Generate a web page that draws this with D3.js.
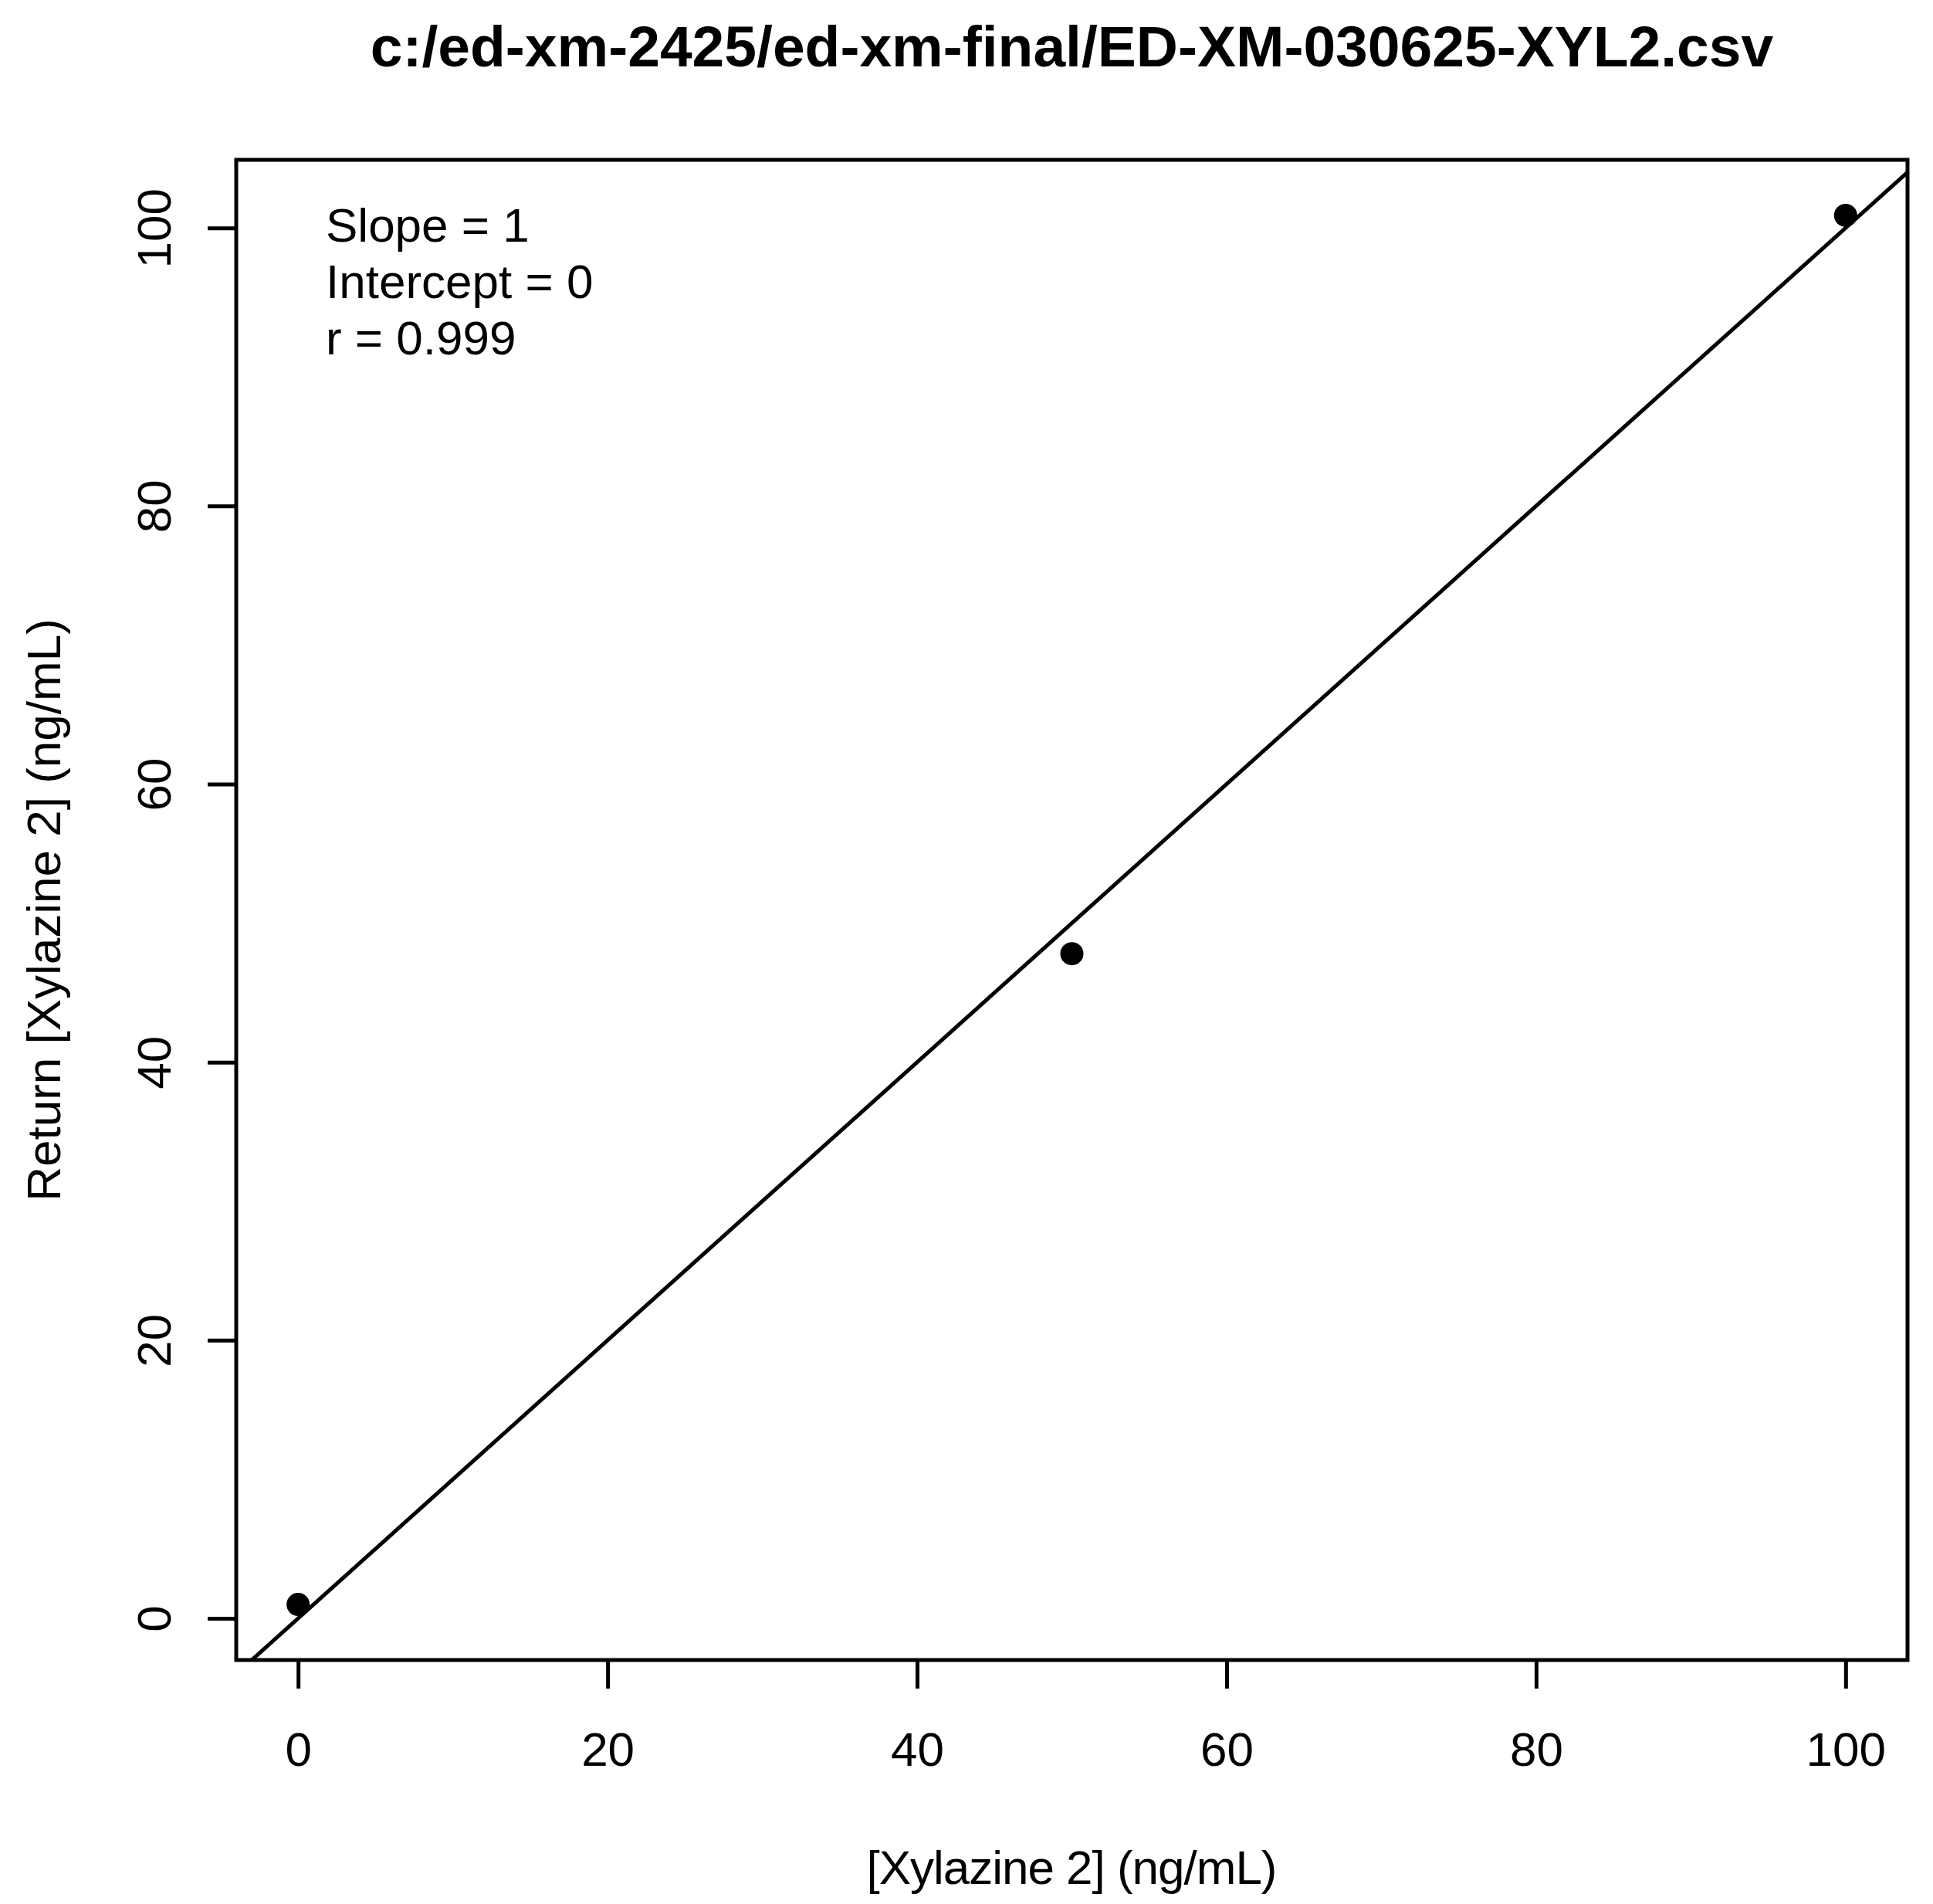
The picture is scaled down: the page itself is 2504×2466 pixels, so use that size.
<!DOCTYPE html>
<html>
<head>
<meta charset="utf-8">
<script src="https://cdn.jsdelivr.net/npm/d3@7"></script>
<style>
  body { margin: 0; background: #fff; }
  svg { display: block; font-family: "Liberation Sans", Arial, Helvetica, sans-serif; }
</style>
</head>
<body>
<div id="chart"></div>
<script>
// data
var xVals = [0, 50, 100];
var yVals = [1.0, 47.8, 100.9];
var xTicks = [0, 20, 40, 60, 80, 100];
var yTicks = [0, 20, 40, 60, 80, 100];
var fitSlope = 1;
var fitIntercept = 0;
var statLines = ['Slope = 1', 'Intercept = 0', 'r = 0.999'];
var title = 'c:/ed-xm-2425/ed-xm-final/ED-XM-030625-XYL2.csv';
var xTitle = '[Xylazine 2] (ng/mL)';
var yTitle = 'Return [Xylazine 2] (ng/mL)';

var W = 2504, H = 2466;
var plotL = 306, plotR = 2471, plotT = 207, plotB = 2150;

// R style: pad range by 4% on each side
function padded(vals) {
  var e = d3.extent(vals), r = e[1] - e[0];
  return [e[0] - 0.04 * r, e[1] + 0.04 * r];
}

var x = d3.scaleLinear().domain(padded(xVals)).range([plotL, plotR]);
var y = d3.scaleLinear().domain(padded(yVals)).range([plotB, plotT]);

var svg = d3.select('#chart')
  .append('svg')
    .attr('width', W)
    .attr('height', H);

svg.append('rect')
  .attr('width', W).attr('height', H)
  .attr('fill', '#fff');

svg.append('clipPath')
  .attr('id', 'plotclip')
  .append('rect')
    .attr('x', plotL).attr('y', plotT)
    .attr('width', plotR - plotL).attr('height', plotB - plotT);

// fitted line
var xd = x.domain();
svg.append('line')
  .attr('clip-path', 'url(#plotclip)')
  .attr('x1', x(xd[0])).attr('y1', y(fitIntercept + fitSlope * xd[0]))
  .attr('x2', x(xd[1])).attr('y2', y(fitIntercept + fitSlope * xd[1]))
  .style('stroke', '#000')
  .style('stroke-width', 5);

// points
svg.selectAll('circle.pt')
  .data(xVals)
  .enter()
  .append('circle')
    .attr('class', 'pt')
    .attr('cx', d => x(d))
    .attr('cy', (d, i) => y(yVals[i]))
    .attr('r', 15)
    .style('fill', '#000');

// box
svg.append('rect')
  .attr('x', plotL).attr('y', plotT)
  .attr('width', plotR - plotL).attr('height', plotB - plotT)
  .style('fill', 'none')
  .style('stroke', '#000')
  .style('stroke-width', 5);

// x axis
var gx = svg.append('g')
  .attr('transform', 'translate(0,' + plotB + ')')
  .call(d3.axisBottom(x).tickValues(xTicks).tickSize(37).tickPadding(56).tickFormat(d3.format('d')));
gx.select('.domain').remove();
gx.selectAll('line').style('stroke', '#000').style('stroke-width', 5);
gx.selectAll('text')
  .style('font-size', '62px')
  .style('fill', '#000')
  .attr('font-family', null);

// y axis
var gy = svg.append('g')
  .attr('transform', 'translate(' + plotL + ',0)')
  .call(d3.axisLeft(y).tickValues(yTicks).tickSize(37).tickFormat(d3.format('d')));
gy.select('.domain').remove();
gy.selectAll('line').style('stroke', '#000').style('stroke-width', 5);
gy.selectAll('text')
  .attr('x', 0)
  .attr('dy', null)
  .attr('text-anchor', 'middle')
  .attr('transform', 'translate(' + (221 - plotL) + ',0) rotate(-90)')
  .style('font-size', '62px')
  .style('fill', '#000')
  .attr('font-family', null);

// titles
svg.append('text')
  .attr('x', (plotL + plotR) / 2).attr('y', 86)
  .attr('text-anchor', 'middle')
  .style('font-size', '75px')
  .style('font-weight', 'bold')
  .text(title);

svg.append('text')
  .attr('x', (plotL + plotR) / 2).attr('y', 2440)
  .attr('text-anchor', 'middle')
  .attr('textLength', 532)
  .style('font-size', '62px')
  .text(xTitle);

svg.append('text')
  .attr('transform', 'translate(78,' + (plotT + plotB) / 2 + ') rotate(-90)')
  .attr('text-anchor', 'middle')
  .style('font-size', '62px')
  .text(yTitle);

// fit stats
svg.selectAll('text.stat')
  .data(statLines)
  .enter()
  .append('text')
    .attr('class', 'stat')
    .attr('x', 422)
    .attr('y', (d, i) => 313 + i * 73)
    .style('font-size', '62px')
    .text(d => d);
</script>
</body>
</html>
